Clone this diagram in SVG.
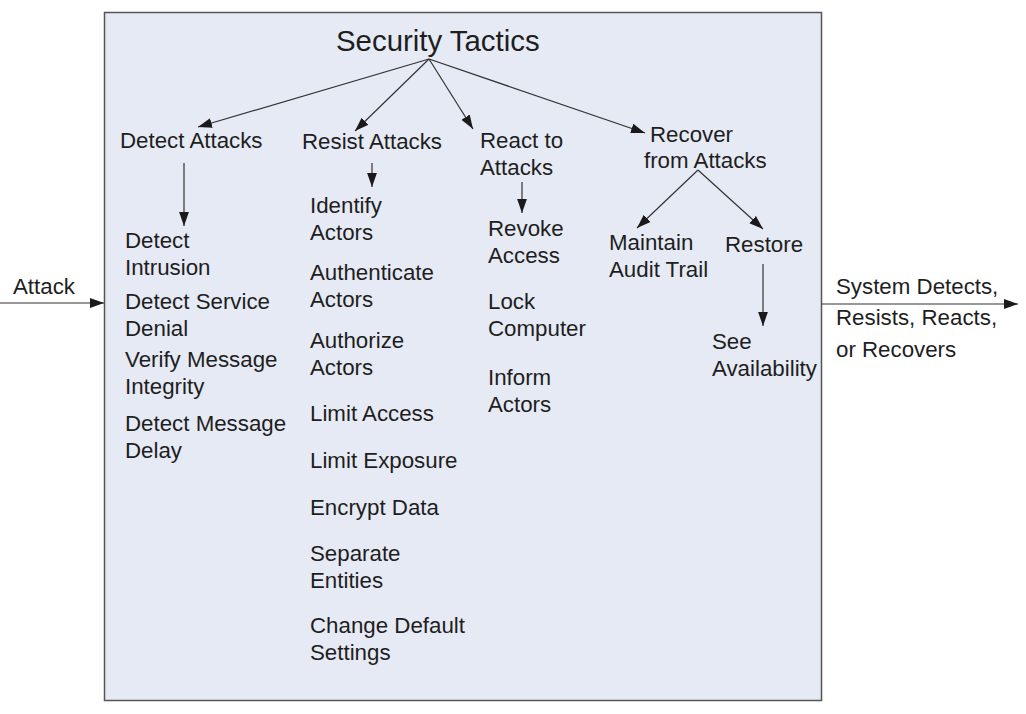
<svg xmlns="http://www.w3.org/2000/svg" width="1026" height="714" viewBox="0 0 1026 714">
<defs>
<marker id="ah" viewBox="0 0 10 10" refX="10" refY="5" markerWidth="14" markerHeight="14" markerUnits="userSpaceOnUse" orient="auto">
<path d="M0,1.5 L10,5 L0,8.5 Z" fill="#1a1a1a"/>
</marker>
<style>
text{font-family:"Liberation Sans",Arial,Helvetica,sans-serif;font-size:22.3px;fill:#1e1e1e}
.t{font-size:29.4px}
.c{stroke:#333;stroke-width:1.2;fill:none;marker-end:url(#ah)}
</style>
</defs>
<rect x="0" y="0" width="1026" height="714" fill="#ffffff"/>
<g id="frame"><rect x="104.5" y="12.5" width="717" height="688" fill="#e6eaf4" stroke="#555" stroke-width="1.5"/></g>
<g id="title"><text class="t" x="336" y="51">Security Tactics</text></g>
<g id="connectors">
<line class="c" x1="0" y1="303" x2="104" y2="303"/>
<line class="c" x1="822" y1="304" x2="1018" y2="304"/>
<line class="c" x1="429" y1="59" x2="198" y2="127"/>
<line class="c" x1="429" y1="59" x2="355" y2="131"/>
<line class="c" x1="429" y1="59" x2="473" y2="129"/>
<line class="c" x1="429" y1="59" x2="645" y2="133"/>
<line class="c" x1="184" y1="163" x2="184" y2="226"/>
<line class="c" x1="372" y1="163" x2="372" y2="187"/>
<line class="c" x1="522" y1="182" x2="522" y2="213"/>
<line class="c" x1="698" y1="170" x2="637" y2="228"/>
<line class="c" x1="698" y1="170" x2="763" y2="229"/>
<line class="c" x1="763" y1="264" x2="763" y2="326"/>
</g>
<g id="attack"><text x="13" y="294">Attack</text></g>
<g id="output"><text x="836" y="294">System Detects,</text><text x="836" y="325">Resists, Reacts,</text><text x="836" y="357">or Recovers</text></g>
<g id="detect-attacks"><text x="120" y="148">Detect Attacks</text></g>
<g id="resist-attacks"><text x="302" y="149">Resist Attacks</text></g>
<g id="react-attacks"><text x="480" y="148">React to</text><text x="480" y="175">Attacks</text></g>
<g id="recover-attacks"><text x="650" y="142">Recover</text><text x="644" y="168">from Attacks</text></g>
<g id="detect-list">
<text x="125" y="248">Detect</text><text x="125" y="275">Intrusion</text>
<text x="125" y="309">Detect Service</text><text x="125" y="336">Denial</text>
<text x="125" y="367">Verify Message</text><text x="125" y="394">Integrity</text>
<text x="125" y="431">Detect Message</text><text x="125" y="458">Delay</text>
</g>
<g id="resist-list">
<text x="310" y="213">Identify</text><text x="310" y="240">Actors</text>
<text x="310" y="280">Authenticate</text><text x="310" y="307">Actors</text>
<text x="310" y="348">Authorize</text><text x="310" y="375">Actors</text>
<text x="310" y="421">Limit Access</text>
<text x="310" y="468">Limit Exposure</text>
<text x="310" y="515">Encrypt Data</text>
<text x="310" y="561">Separate</text><text x="310" y="588">Entities</text>
<text x="310" y="633">Change Default</text><text x="310" y="660">Settings</text>
</g>
<g id="react-list">
<text x="488" y="236">Revoke</text><text x="488" y="263">Access</text>
<text x="488" y="309">Lock</text><text x="488" y="336">Computer</text>
<text x="488" y="385">Inform</text><text x="488" y="412">Actors</text>
</g>
<g id="maintain-audit"><text x="609" y="250">Maintain</text><text x="609" y="277">Audit Trail</text></g>
<g id="restore"><text x="725" y="252">Restore</text></g>
<g id="see-availability"><text x="712" y="349">See</text><text x="712" y="376">Availability</text></g>
</svg>
